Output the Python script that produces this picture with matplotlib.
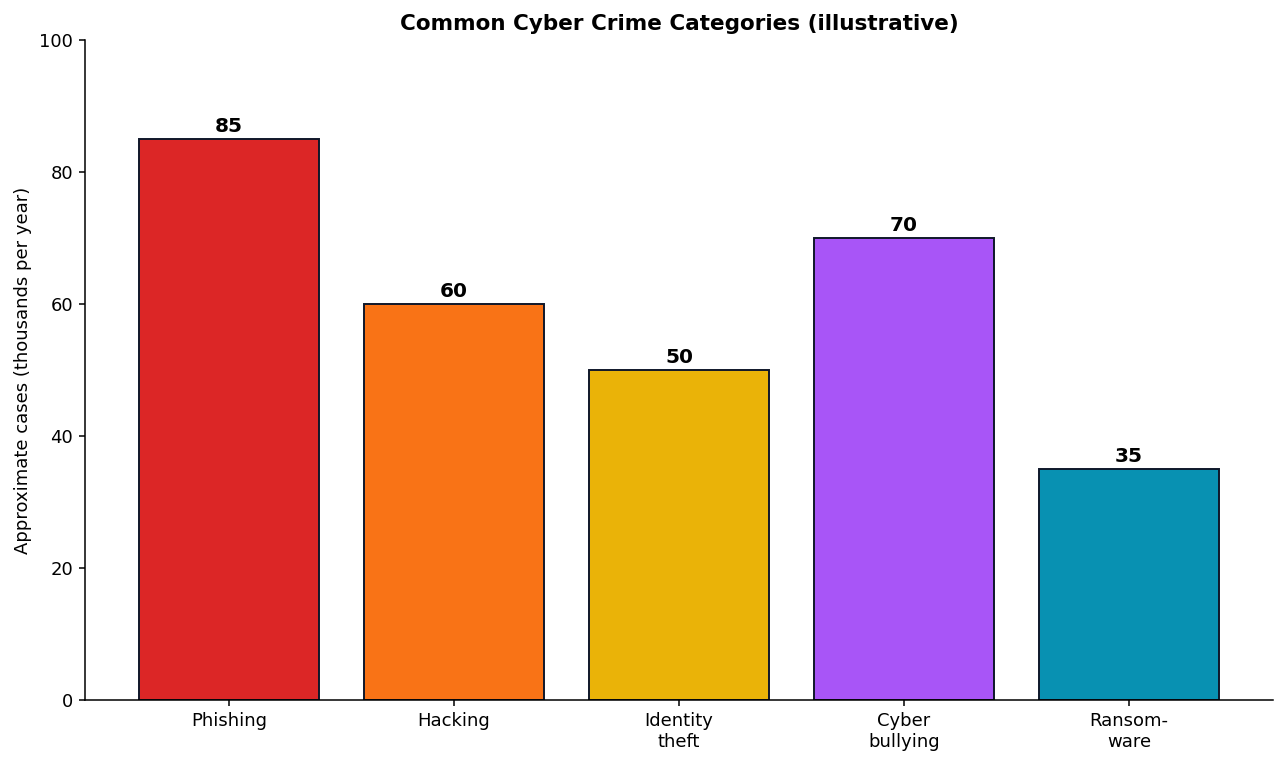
import matplotlib
matplotlib.use("Agg")
import matplotlib.pyplot as plt

categories = ["Phishing", "Hacking", "Identity\ntheft", "Cyber\nbullying", "Ransom-\nware"]
cases = [85, 60, 50, 70, 35]
colors = ["#DC2626", "#F97316", "#EAB308", "#A855F7", "#0891B2"]

fig = plt.figure(figsize=(12.86, 7.64), dpi=100)
ax = fig.add_axes([0.0661, 0.0838, 0.9238, 0.8638])

bars = ax.bar(categories, cases, color=colors, edgecolor="#0F172A", linewidth=1.4, width=0.8)
for b, v in zip(bars, cases):
    ax.text(b.get_x() + b.get_width() / 2, v + 0.4, str(v), ha="center", va="bottom",
            fontsize=14.5, fontweight="bold")

ax.set_ylim(0, 100)
ax.set_ylabel("Approximate cases (thousands per year)", fontsize=13, labelpad=5)
ax.set_title("Common Cyber Crime Categories (illustrative)", fontsize=15.5, fontweight="bold", pad=7)
ax.tick_params(labelsize=13, length=4, width=1.1, pad=4.5)
for s in ["left", "bottom"]:
    ax.spines[s].set_linewidth(1.1)
ax.spines["top"].set_visible(False)
ax.spines["right"].set_visible(False)

fig.savefig("out.png", dpi=100)
